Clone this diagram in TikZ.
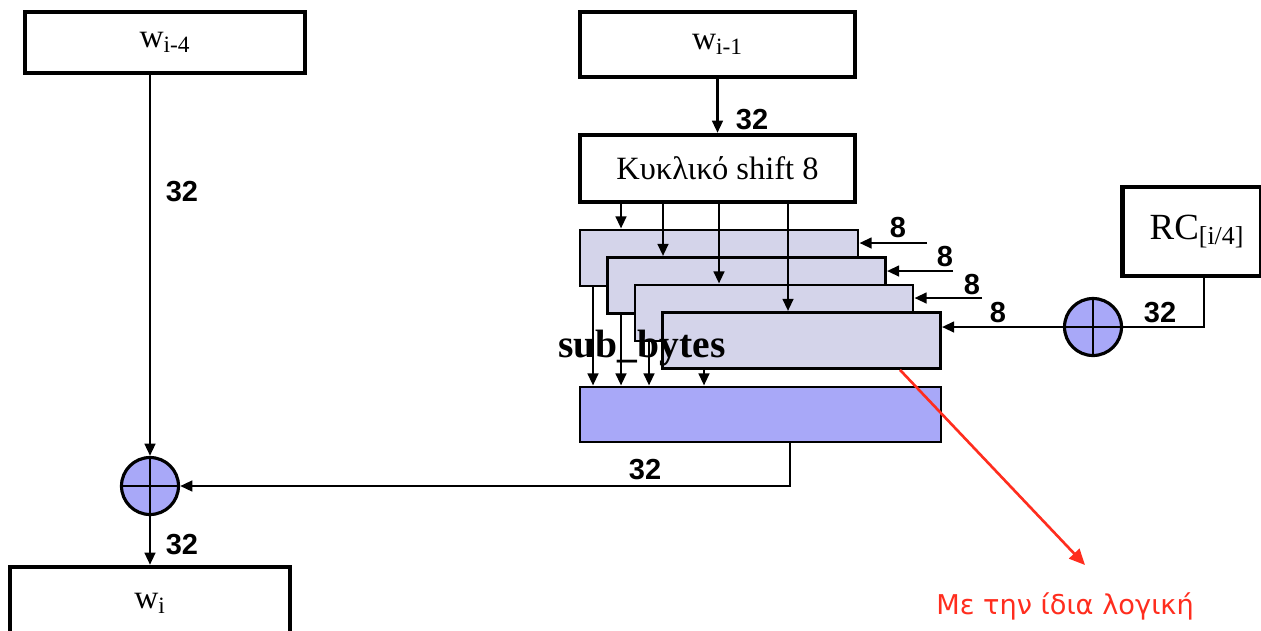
\documentclass[tikz,border=0pt]{standalone}
\usepackage{fontspec}
\setmainfont{Liberation Serif}
\setsansfont{Liberation Sans}
\newfontfamily\notefont{DejaVu Sans}
\usetikzlibrary{arrows.meta}
\definecolor{sbfill}{RGB}{212,212,234}
\definecolor{opblue}{RGB}{168,168,248}
\definecolor{notered}{RGB}{255,45,30}
\begin{document}
\begin{tikzpicture}[x=0.02cm,y=-0.02cm,
  word/.style={draw,line width=2.4pt,fill=white,inner sep=0pt,
    font=\fontsize{19}{22}\selectfont},
  sbox/.style={draw,line width=1.6pt,fill=sbfill,inner sep=0pt,
    minimum width=5.56cm,minimum height=1.12cm},
  xorop/.style={circle,draw,line width=1.8pt,fill=opblue,inner sep=0pt,
    minimum size=1.14cm,path picture={
      \draw[line width=1.6pt] (path picture bounding box.north) -- (path picture bounding box.south)
        (path picture bounding box.west) -- (path picture bounding box.east);}},
  bits/.style={font=\sffamily\bfseries\fontsize{16.5}{19}\selectfont},
  flow/.style={-{Triangle[length=7pt,width=6pt]},line width=1.6pt},
  wire/.style={line width=1.6pt},
  noteflow/.style={-{Triangle[length=9pt,width=8pt]},line width=1.5pt,draw=notered}]
\clip (0,0) rectangle (1261,630);
% words and blocks
\node[word,minimum width=5.6cm,minimum height=1.22cm] (wim4) at (165,42.5) {w\textsubscript{i-4}};
\node[word,minimum width=5.5cm,minimum height=1.3cm] (wim1) at (717.5,44.5) {w\textsubscript{i-1}};
\node[word,minimum width=5.5cm,minimum height=1.34cm,font=\fontsize{18.5}{22}\selectfont] (shift) at (717.5,168.5) {Κυκλικό shift 8};
\node[word,minimum width=2.78cm,minimum height=1.78cm,font=\fontsize{21}{24}\selectfont] (rc) at (1192,231.5) {\hspace*{0.2cm}RC\textsubscript{[i/4]}};
\node[word,minimum width=5.6cm,minimum height=1.46cm] (wi) at (150,603.5) {w\textsubscript{i}};
% sub_bytes stack
\node[sbox] (sb1) at (719,258) {};
\node[sbox] (sb2) at (746.5,285.5) {};
\node[sbox] (sb3) at (774,313) {};
\node[sbox] (sb4) at (801.5,340.5) {};
\node[sbox,fill=opblue,minimum width=7.22cm,minimum height=1.1cm] (sbout) at (760.5,414.5) {};
\node[xorop] (xorL) at (150,486) {};
\node[xorop] (xorR) at (1093,327) {};
% connectors
\draw[flow] (xorL |- wim4.south) -- (xorL);
\draw[flow] (wim1) -- (shift);
\foreach \x/\b in {621/sb1,663/sb2,719/sb3,788/sb4}
  \draw[flow] (\x,0 |- shift.south) -- (\x,0 |- \b.north);
\foreach \x/\b in {593/sb1,621/sb2,649/sb3,704/sb4}
  \draw[flow] (\x,0 |- \b.south) -- (\x,0 |- sbout.north);
\foreach \b/\x/\y in {sb1/927/243,sb2/953/271,sb3/982/298}{
  \coordinate (k\b) at (\x,\y);
  \draw[flow] (k\b) -- (\b.east |- k\b);
}
\draw[flow] (xorR) -- (sb4.east |- xorR);
\draw[wire] (1204,0 |- rc.south) |- (xorR);
\draw[flow] (790,0 |- sbout.south) |- (xorL);
\draw[flow] (xorL) -- (wi);
% labels
\node[bits] (b1) at (182,192) {32};
\node[bits] (b2) at (752,120) {32};
\node[bits] (b3) at (182,545) {32};
\node[bits] (b4) at (645,470) {32};
\node[bits] (b5) at (1160,313) {32};
\node[bits] (k1) at (898,228) {8};
\node[bits] (k2) at (945,257) {8};
\node[bits] (k3) at (972,285) {8};
\node[bits] (k4) at (998,313) {8};
\node[font=\bfseries\fontsize{22.5}{26}\selectfont] (sbname) at (642,348) {sub\_bytes};
% note
\coordinate (tip) at (1085,565);
\draw[noteflow] (900,0 |- sb4.south) -- (tip);
\node[text=notered,font=\notefont\fontsize{15.5}{18}\selectfont] (note) at (1065,606) {Με την ίδια λογική};
\end{tikzpicture}
\end{document}
